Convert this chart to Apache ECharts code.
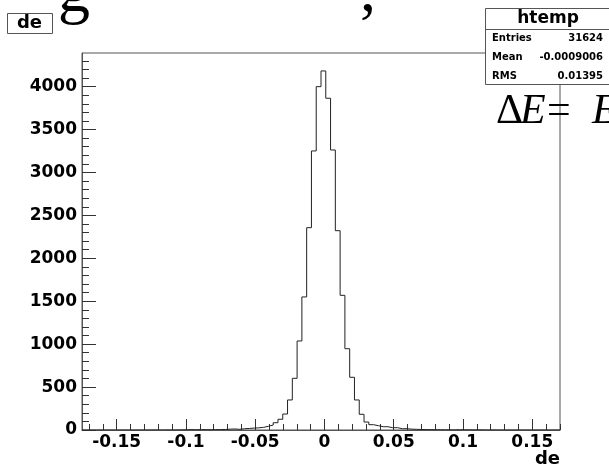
<!DOCTYPE html>
<html><head><meta charset="utf-8">
<script src="https://cdn.jsdelivr.net/npm/echarts@6/dist/echarts.min.js"></script>
<style>html,body{margin:0;padding:0;background:#fff}#c{width:609px;height:467px}</style>
</head><body><div id="c"></div>
<script>
// ---- data ----
const xMin = -0.175, xMax = 0.17, nBins = 100;
const binCounts = [
  0,0,0,0,0,0,0,0,0,0,
  0,0,0,0,1,0,0,1,0,1,
  2,3,4,3,5,4,3,4,5,6,
  10,12,8,15,18,22,25,31,43,58,
  85,125,186,350,602,1037,1550,2357,3251,4000,
  4183,3865,3262,2322,1569,947,614,350,183,93,
  62,50,38,38,27,27,15,15,10,8,
  6,5,4,3,3,2,2,1,3,3,
  2,1,2,1,0,1,0,0,0,0,
  0,0,0,0,0,0,0,0,0,0
];
const xMajorTicks = [-0.15,-0.1,-0.05,0,0.05,0.1,0.15];
const xTickLabels = ['-0.15','-0.1','-0.05','0','0.05','0.1','0.15'];
const yMajorTicks = [0,500,1000,1500,2000,2500,3000,3500,4000];
const yTickLabels = ['0','500','1000','1500','2000','2500','3000','3500','4000'];
const yMax = 4392;
const statsTitle = 'htemp';
const statsNames = ['Entries','Mean','RMS'];
const statsValues = ['31624','-0.0009006','0.01395'];
const titleText = 'de';
const xTitle = 'de';

// ---- derived ----
const binW = (xMax - xMin) / nBins;
const stepData = binCounts.map((c, k) => [xMin + k * binW, c]);
stepData.push([xMax, binCounts[nBins - 1]]);
const xMinor = []; for (let i = -17; i <= 17; i++) xMinor.push(+(i * 0.01).toFixed(2));
const yMinor = []; for (let v = 0; v <= 4300; v += 100) yMinor.push(v);

const FONT = '"DejaVu Sans", Verdana, sans-serif';
const SERIF = '"Liberation Serif", "Times New Roman", serif';
const frameColor = '#555';

const chart = echarts.init(document.getElementById('c'), null, {renderer: 'canvas'});
const lblStyle = {color: '#000', fontFamily: FONT, fontWeight: 'bold', fontSize: 17};

chart.setOption({
  animation: false,
  backgroundColor: '#fff',
  grid: {left: 82, right: 49, top: 53, bottom: 37, show: true, borderColor: frameColor, borderWidth: 1, backgroundColor: 'transparent'},
  xAxis: [
    {type: 'value', min: xMin, max: xMax, position: 'bottom',
     axisLine: {show: true, onZero: false, lineStyle: {color: frameColor, width: 1}},
     axisTick: {show: true, inside: true, length: 11, customValues: xMajorTicks, lineStyle: {color: '#333'}},
     axisLabel: Object.assign({show: true, margin: 4, customValues: xMajorTicks,
       formatter: v => { const i = xMajorTicks.findIndex(t => Math.abs(t - v) < 1e-9); return i >= 0 ? xTickLabels[i] : ''; }}, lblStyle),
     splitLine: {show: false}},
    {type: 'value', min: xMin, max: xMax, position: 'bottom', offset: 0,
     axisLine: {show: false, onZero: false},
     axisTick: {show: true, inside: true, length: 6, customValues: xMinor, lineStyle: {color: '#333'}},
     axisLabel: {show: false}, splitLine: {show: false}}
  ],
  yAxis: [
    {type: 'value', min: 0, max: yMax, position: 'left',
     axisLine: {show: true, onZero: false, lineStyle: {color: frameColor, width: 1}},
     axisTick: {show: true, inside: true, length: 14, customValues: yMajorTicks, lineStyle: {color: '#333'}},
     axisLabel: Object.assign({show: true, margin: 5, customValues: yMajorTicks,
       formatter: v => { const i = yMajorTicks.indexOf(v); return i >= 0 ? yTickLabels[i] : ''; }}, lblStyle),
     splitLine: {show: false}},
    {type: 'value', min: 0, max: yMax, position: 'left', offset: 0,
     axisLine: {show: false, onZero: false},
     axisTick: {show: true, inside: true, length: 7, customValues: yMinor, lineStyle: {color: '#333'}},
     axisLabel: {show: false}, splitLine: {show: false}}
  ],
  series: [{
    type: 'line', xAxisIndex: 0, yAxisIndex: 0, step: 'end', data: stepData,
    showSymbol: false, symbol: 'none', lineStyle: {color: '#222', width: 1}, z: 5
  }],
  graphic: [
    {type: 'text', left: 58, top: -38, z: 1, style: {text: 'g', font: '64px ' + SERIF, fill: '#000'}},
    {type: 'text', left: 360, top: -38, z: 1, style: {text: ',', font: '64px ' + SERIF, fill: '#000'}},
    {type: 'rect', shape: {x: 7.5, y: 13.5, width: 45, height: 20}, style: {fill: '#fff', stroke: frameColor, lineWidth: 1}, z: 10},
    {type: 'text', x: 29.5, y: 23.5, z: 11, style: {text: titleText, font: 'bold 18px ' + FONT, fill: '#000', textAlign: 'center', textVerticalAlign: 'middle'}},
    {type: 'rect', shape: {x: 485.5, y: 8.5, width: 130, height: 76}, style: {fill: '#fff', stroke: frameColor, lineWidth: 1}, z: 10},
    {type: 'line', shape: {x1: 485.5, y1: 29.5, x2: 609, y2: 29.5}, style: {stroke: frameColor, lineWidth: 1}, z: 11},
    {type: 'text', x: 548, y: 19, z: 11, style: {text: statsTitle, font: 'bold 17px ' + FONT, fill: '#000', textAlign: 'center', textVerticalAlign: 'middle'}},
    ...statsNames.map((n, i) => ({type: 'text', x: 492, y: 38 + i * 19, z: 11, style: {text: n, font: 'bold 10px ' + FONT, fill: '#000', textAlign: 'left', textVerticalAlign: 'middle'}})),
    ...statsValues.map((v, i) => ({type: 'text', x: 603, y: 38 + i * 19, z: 11, style: {text: v, font: 'bold 10px ' + FONT, fill: '#000', textAlign: 'right', textVerticalAlign: 'middle'}})),
    {type: 'text', x: 560, y: 459, z: 11, style: {text: xTitle, font: 'bold 18px ' + FONT, fill: '#000', textAlign: 'right', textVerticalAlign: 'middle'}},
    {type: 'text', x: 496, y: 112, z: 12, style: {text: 'Δ', font: '42px ' + SERIF, fill: '#000', textAlign: 'left', textVerticalAlign: 'middle'}},
    {type: 'text', x: 520, y: 112, z: 12, style: {text: 'E', font: 'italic 42px ' + SERIF, fill: '#000', textAlign: 'left', textVerticalAlign: 'middle'}},
    {type: 'text', x: 547, y: 112, z: 12, style: {text: '=', font: '42px ' + SERIF, fill: '#000', textAlign: 'left', textVerticalAlign: 'middle'}},
    {type: 'text', x: 592, y: 112, z: 12, style: {text: 'E', font: 'italic 42px ' + SERIF, fill: '#000', textAlign: 'left', textVerticalAlign: 'middle'}}
  ]
});
</script>
</body></html>
